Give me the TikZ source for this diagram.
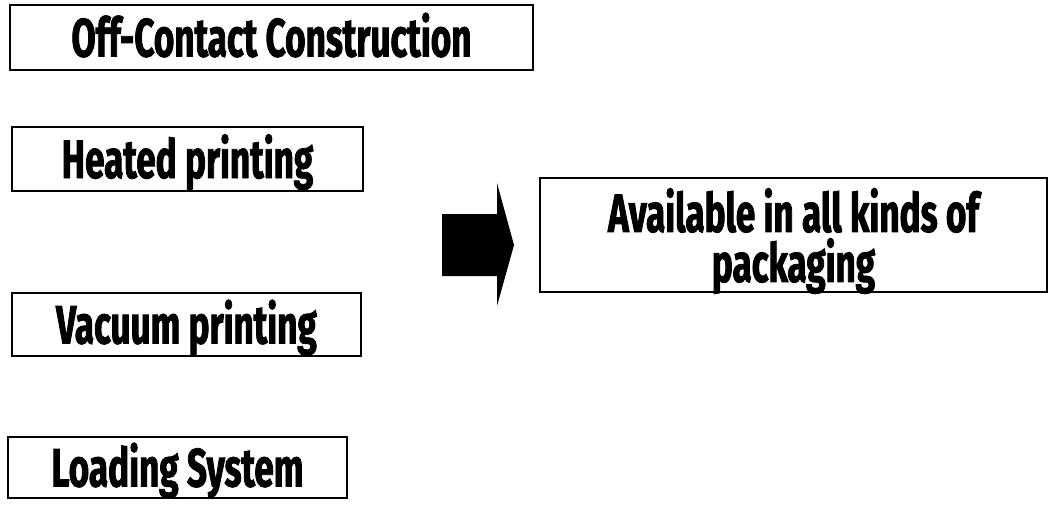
\documentclass[tikz,border=0pt]{standalone}
\usepackage{fontspec}
\newfontfamily\boxfont{Fira Sans}[FakeStretch=0.65, FakeBold=1.5]
\tikzset{feature/.style={draw, line width=1.5pt, inner sep=0pt, text depth=0pt, text height=38pt,
  font=\boxfont\bfseries\fontsize{54}{50}\selectfont}}
\begin{document}
\begin{tikzpicture}[x=1pt,y=-1pt]
\useasboundingbox (0,0) rectangle (1051,506);
\node[feature, minimum width=523pt, minimum height=65pt] (offc) at (271.5,37.5) {Off-Contact Construction};
\node[feature, minimum width=351pt, minimum height=64pt] (heat) at (187.5,159) {Heated printing};
\node[feature, minimum width=349pt, minimum height=63pt] (vac) at (186.5,324.5) {Vacuum printing};
\node[feature, minimum width=339pt, minimum height=61pt] (load) at (177.5,467.5) {Loading System};
\node[feature, minimum width=507pt, minimum height=114pt, text height=, align=center] (pack) at (793.5,235) {Available in all kinds of\\packaging};
\fill (442,214) -- (497,214) -- (497,183) -- (514,245) -- (497,306) -- (497,276) -- (442,276) -- cycle;
\end{tikzpicture}
\end{document}
